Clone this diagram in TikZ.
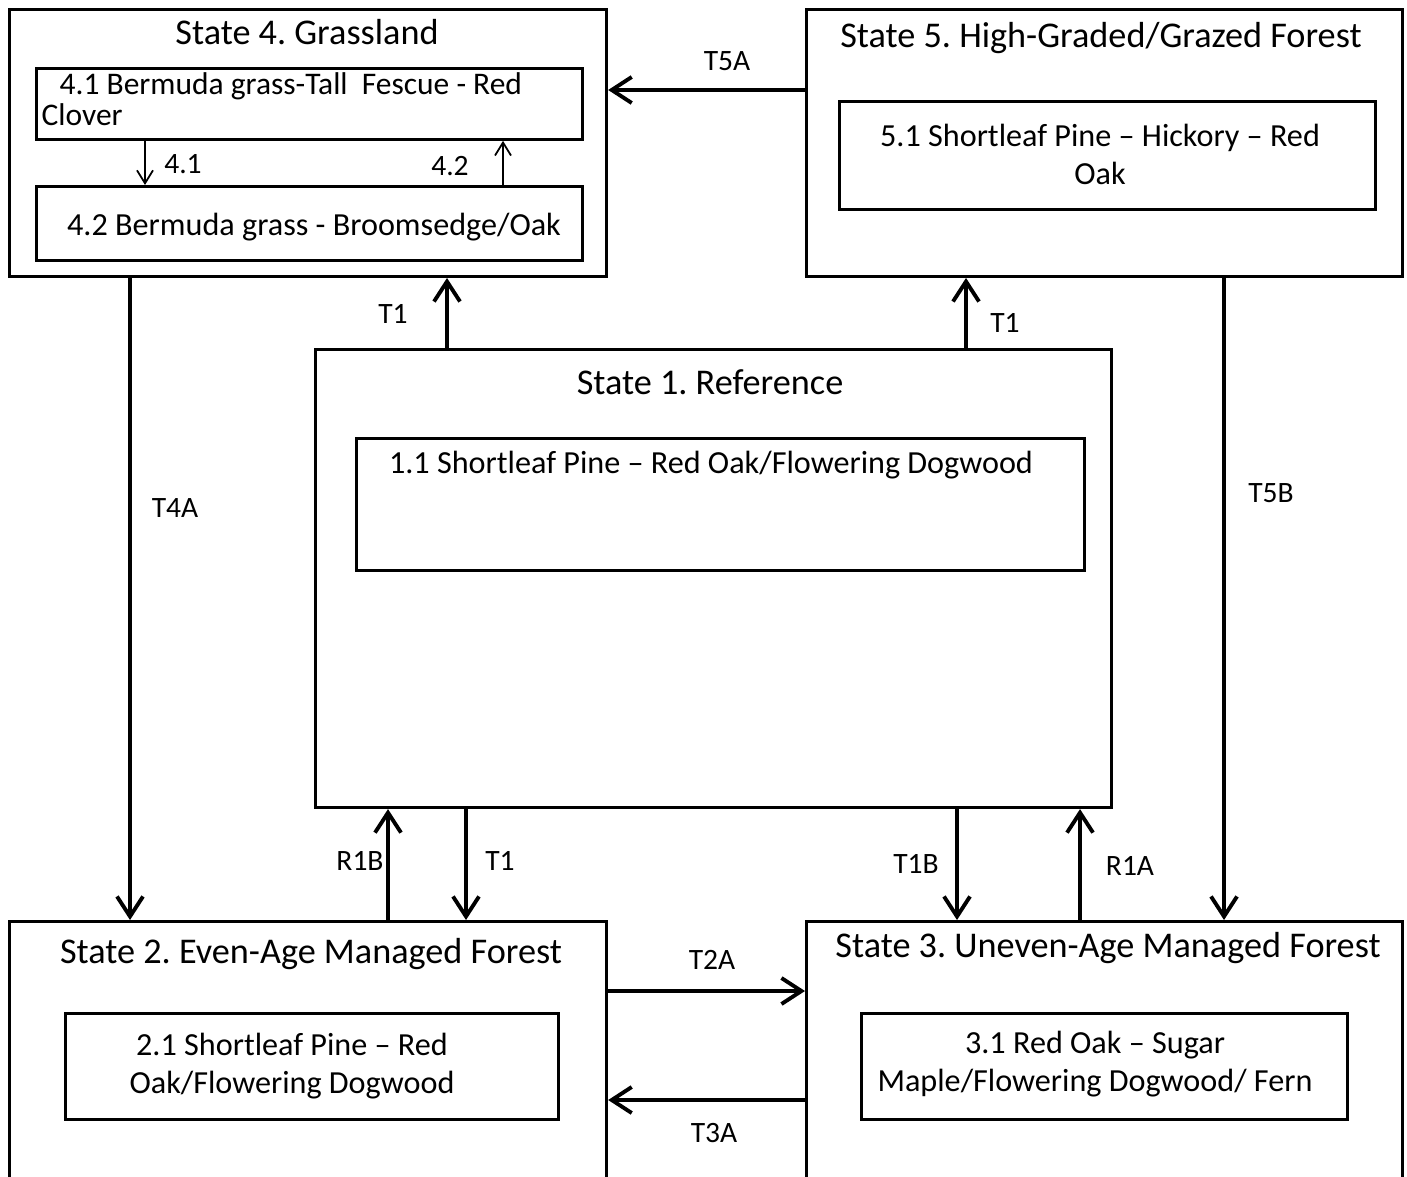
\documentclass[tikz,border=0pt]{standalone}
\usepackage{fontspec}
\setmainfont{Carlito}
\usetikzlibrary{arrows.meta,calc,positioning}
\frenchspacing

\tikzset{
  statebox/.style={draw, line width=0.8pt, anchor=north west, inner sep=0pt},
  phasebox/.style={draw, line width=0.8pt, anchor=north west, inner sep=0pt},
  statetitle/.style={inner sep=0pt, anchor=base, font=\fontsize{10.3}{12}\selectfont},
  phasetext/.style={inner sep=0pt, align=center, font=\fontsize{9.15}{10.8}\selectfont},
  lbl/.style={inner sep=0pt, font=\fontsize{8.4}{10}\selectfont},
  trans/.style={->, line width=1.1pt},
  pathway/.style={->, line width=0.5pt, >={Straight Barb[length=1.3mm,width=1.6mm]}}
}

\begin{document}
\begin{tikzpicture}[x=0.01cm,y=-0.01cm,>={Straight Barb[length=2mm,width=2.6mm]}]
\useasboundingbox (0,0) rectangle (1407,1176);
\clip (0,0) rectangle (1407,1176);
% The states
\node[statebox, minimum width=5.97cm, minimum height=2.67cm] (s4) at (8,8) {};
\node[statebox, minimum width=5.96cm, minimum height=2.67cm] (s5) at (805,8) {};
\node[statebox, minimum width=7.96cm, minimum height=4.58cm] (s1) at (314,348) {};
\node[statebox, minimum width=5.97cm, minimum height=2.80cm] (s2) at (8,920) {};
\node[statebox, minimum width=5.96cm, minimum height=2.80cm] (s3) at (805,920) {};
% Titles
\node[statetitle] (s4t) at (307,45) {State 4. Grassland};
\node[statetitle] (s5t) at (1101,48) {State 5. High-Graded/Grazed Forest};
\node[statetitle] (s1t) at (710,394) {State 1. Reference};
\node[statetitle] (s2t) at (311,963) {State 2. Even-Age Managed Forest};
\node[statetitle] (s3t) at (1108,957) {State 3. Uneven-Age Managed Forest};
% Community phases
\node[phasebox, minimum width=5.46cm, minimum height=0.71cm] (p41) at (35,67) {};
\node[phasetext, anchor=base west, font=\fontsize{8.95}{10.8}\selectfont] (p41a) at (59,94) {4.1 Bermuda grass-Tall\ \ Fescue - Red};
\node[phasetext, anchor=base west, font=\fontsize{8.95}{10.8}\selectfont] (p41b) at (41,126) {Clover};
\node[phasebox, minimum width=5.46cm, minimum height=0.74cm] (p42) at (35,185) {};
\node[phasetext, anchor=base] (p42t) at (314,235) {4.2 Bermuda grass - Broomsedge/Oak};
\node[phasebox, minimum width=5.36cm, minimum height=1.08cm] (p51) at (838,100) {};
\node[phasetext] (p51t) at (1100,154) {5.1 Shortleaf Pine -- Hickory -- Red\\Oak};
\node[phasebox, minimum width=7.28cm, minimum height=1.32cm] (p11) at (355,437) {};
\node[phasetext, anchor=base] (p11t) at (711,473) {1.1 Shortleaf Pine -- Red Oak/Flowering Dogwood};
\node[phasebox, minimum width=4.93cm, minimum height=1.06cm] (p21) at (64,1012) {};
\node[phasetext] (p21t) at (292,1066) {2.1 Shortleaf Pine -- Red\\Oak/Flowering Dogwood};
\node[phasebox, minimum width=4.86cm, minimum height=1.06cm] (p31) at (860,1012) {};
\node[phasetext] (p31t) at (1095,1064) {3.1 Red Oak -- Sugar\\Maple/Flowering Dogwood/\ Fern};
% Pathways inside state 4
\coordinate (c41) at ($(p41.south west)+(110,0)$);
\coordinate (c42) at ($(p42.north west)+(468,0)$);
\draw[pathway] (c41) -- (c41 |- p42.north);
\draw[pathway] (c42) -- (c42 |- p41.south);
\node[lbl] (l41) at (183,164) {4.1};
\node[lbl] (l42) at (450,166) {4.2};
% Transitions and restorations
\coordinate (t5a) at ($(s5.north west)+(0,82)$);
\coordinate (t4a) at ($(s4.south west)+(122,0)$);
\coordinate (t1a) at ($(s1.north west)+(133,0)$);
\coordinate (t1b) at ($(s1.north west)+(652,0)$);
\coordinate (t5b) at ($(s5.south west)+(419,0)$);
\coordinate (r1b) at ($(s2.north west)+(380,0)$);
\coordinate (t1c) at ($(s1.south west)+(152,0)$);
\coordinate (t1d) at ($(s1.south west)+(643,0)$);
\coordinate (r1a) at ($(s3.north west)+(275,0)$);
\coordinate (t2a) at ($(s2.north east)+(0,71)$);
\coordinate (t3a) at ($(s3.north west)+(0,180)$);
\draw[trans] (t5a) -- (t5a -| s4.east);
\draw[trans] (t4a) -- (t4a |- s2.north);
\draw[trans] (t1a) -- (t1a |- s4.south);
\draw[trans] (t1b) -- (t1b |- s5.south);
\draw[trans] (t5b) -- (t5b |- s3.north);
\draw[trans] (r1b) -- (r1b |- s1.south);
\draw[trans] (t1c) -- (t1c |- s2.north);
\draw[trans] (t1d) -- (t1d |- s3.north);
\draw[trans] (r1a) -- (r1a |- s1.south);
\draw[trans] (t2a) -- (t2a -| s3.west);
\draw[trans] (t3a) -- (t3a -| s2.east);
% Labels
\node[lbl] (lt5a) at (727,61) {T5A};
\node[lbl] (lt1a) at (393,314) {T1};
\node[lbl] (lt1b) at (1005,323) {T1};
\node[lbl] (lt4a) at (175,508) {T4A};
\node[lbl] (lt5b) at (1271,493) {T5B};
\node[lbl] (lr1b) at (360,861) {R1B};
\node[lbl] (lt1c) at (500,861) {T1};
\node[lbl] (lt1d) at (916,864) {T1B};
\node[lbl] (lr1a) at (1130,866) {R1A};
\node[lbl] (lt2a) at (712,960) {T2A};
\node[lbl] (lt3a) at (714,1133) {T3A};
\end{tikzpicture}
\end{document}
